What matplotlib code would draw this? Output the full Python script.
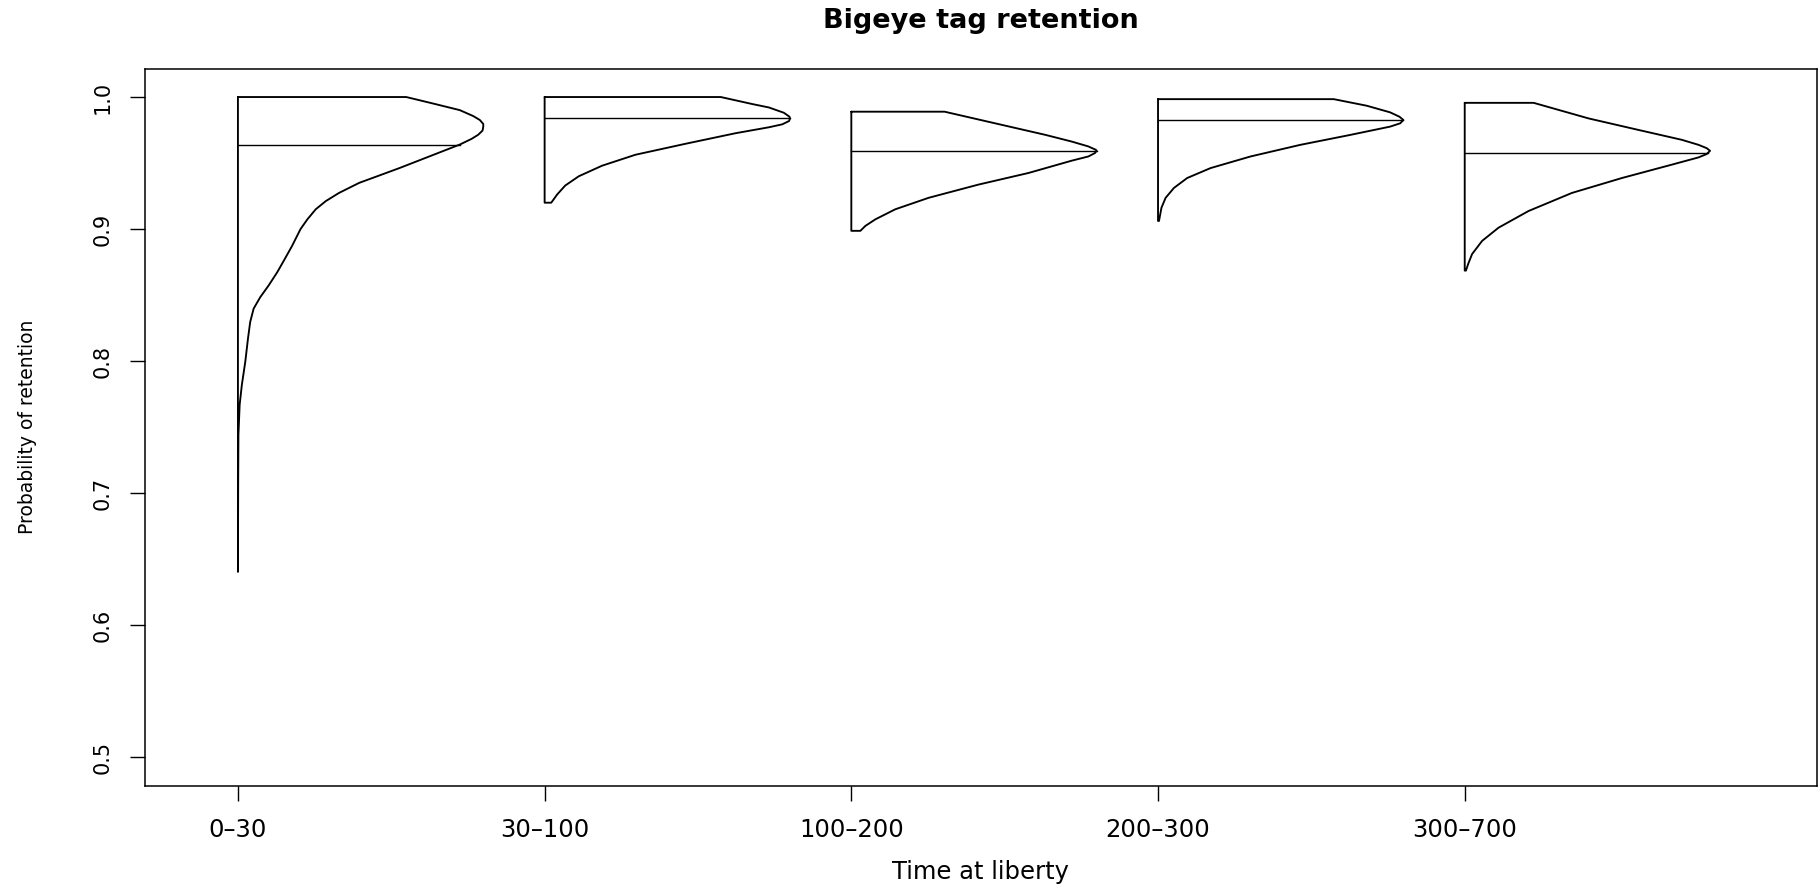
import matplotlib
matplotlib.use("Agg")
import matplotlib.pyplot as plt

# ---------------- data ----------------
groups = ["0–30", "30–100", "100–200", "200–300", "300–700"]
ytick_vals = [0.5, 0.6, 0.7, 0.8, 0.9, 1.0]
ytick_labels = ["0.5", "0.6", "0.7", "0.8", "0.9", "1.0"]

# density profiles: retention probability (top -> bottom) and relative density
dens_y_0_30 = [1.0, 0.9951, 0.9901, 0.9856, 0.9826, 0.9796, 0.9776, 0.9746, 0.9714,
               0.9683, 0.964, 0.9462, 0.935, 0.9274, 0.9212, 0.915, 0.9074, 0.90,
               0.8874, 0.8761, 0.8673, 0.8573, 0.8485, 0.8398, 0.8297, 0.8172,
               0.7996, 0.7821, 0.767, 0.744, 0.707, 0.6405]
dens_w_0_30 = [0.686, 0.795, 0.904, 0.959, 0.986, 1.0, 1.0, 0.997, 0.979,
               0.952, 0.904, 0.658, 0.494, 0.412, 0.358, 0.317, 0.283, 0.255,
               0.221, 0.187, 0.160, 0.125, 0.091, 0.064, 0.050, 0.041,
               0.030, 0.016, 0.007, 0.002, 0.001, 0.0]

dens_y_30_100 = [1.0, 0.9947, 0.9921, 0.9881, 0.9851, 0.9836, 0.9818, 0.9793, 0.9771,
                 0.9726, 0.9646, 0.9563, 0.948, 0.94, 0.933, 0.9262, 0.92]
dens_w_30_100 = [0.718, 0.846, 0.914, 0.975, 0.998, 1.0, 0.996, 0.968, 0.914,
                 0.778, 0.574, 0.370, 0.234, 0.139, 0.084, 0.051, 0.027]

dens_y_100_200 = [0.9889, 0.9801, 0.9714, 0.9663, 0.9626, 0.9601, 0.9594, 0.9576, 0.955,
                  0.9518, 0.9425, 0.9337, 0.9237, 0.915, 0.9074, 0.9024, 0.8987]
dens_w_100_200 = [0.380, 0.586, 0.790, 0.898, 0.966, 0.996, 1.0, 0.993, 0.966,
                  0.898, 0.722, 0.518, 0.315, 0.179, 0.098, 0.057, 0.037]

dens_y_200_300 = [0.9984, 0.9934, 0.9884, 0.9851, 0.9826, 0.9801, 0.9776, 0.9713, 0.9638,
                  0.955, 0.9462, 0.9387, 0.9312, 0.9237, 0.9162, 0.9062]
dens_w_200_300 = [0.716, 0.851, 0.946, 0.984, 1.0, 0.987, 0.946, 0.783, 0.580,
                  0.377, 0.214, 0.119, 0.065, 0.031, 0.014, 0.004]

dens_y_300_700 = [0.9956, 0.9838, 0.9751, 0.9676, 0.9638, 0.9613, 0.9593, 0.9568, 0.9543,
                  0.9488, 0.9387, 0.9274, 0.9137, 0.9011, 0.8911, 0.8811, 0.8736, 0.8686]
dens_w_300_700 = [0.281, 0.505, 0.708, 0.885, 0.953, 0.986, 1.0, 0.986, 0.953,
                  0.844, 0.641, 0.437, 0.260, 0.138, 0.071, 0.030, 0.014, 0.005]

mean_vals = [0.964, 0.984, 0.9595, 0.9826, 0.958]
mean_dens = [0.904, 1.0, 1.0, 1.0, 0.99]

profiles_y = [dens_y_0_30, dens_y_30_100, dens_y_100_200, dens_y_200_300, dens_y_300_700]
profiles_w = [dens_w_0_30, dens_w_30_100, dens_w_100_200, dens_w_200_300, dens_w_300_700]

# ---------------- figure ----------------
W, H = 1820, 886
fig = plt.figure(figsize=(W / 100, H / 100), dpi=100)
ax = fig.add_axes([145 / W, 1 - 786 / H, (1816.5 - 145) / W, (786 - 68.5) / H])

width_scale = 0.8
lw = 1.35
for i, (ys, ws) in enumerate(zip(profiles_y, profiles_w)):
    x0 = i + 1
    xs = [x0] + [x0 + width_scale * w for w in ws] + [x0, x0]
    yy = [ys[0]] + list(ys) + [ys[-1], ys[0]]
    ax.plot(xs, yy, color="black", lw=lw, solid_joinstyle="round",
            solid_capstyle="round")
    ax.plot([x0, x0 + width_scale * mean_dens[i]], [mean_vals[i], mean_vals[i]],
            color="black", lw=1.0)

ax.set_xlim(0.697, 6.147)
ax.set_ylim(0.4784, 1.0216)

ax.set_xticks(range(1, len(groups) + 1))
ax.set_xticklabels(groups, fontsize=17.5, family="DejaVu Sans")
ax.set_yticks(ytick_vals)
ax.set_yticklabels(ytick_labels, fontsize=15, rotation=90, va="center",
                   family="DejaVu Sans")
ax.tick_params(axis="x", direction="out", length=10.8, width=1.0, pad=12)
ax.tick_params(axis="y", direction="out", length=10.8, width=1.0, pad=12.5)

for s in ax.spines.values():
    s.set_linewidth(1.1)

ax.set_xlabel("Time at liberty", fontsize=17.5)
ax.xaxis.set_label_coords(0.5, -92.9 / 717.5)
ax.xaxis.label.set_va("baseline")

ax.set_ylabel("Probability of retention", fontsize=13.5)
ax.yaxis.set_label_coords((28 - 145) / 1671.5, 0.5)
ax.yaxis.label.set_va("center")

fig.text((145 + 1816.5) / 2 / W, 1 - 27.7 / H, "Bigeye tag retention",
         ha="center", va="baseline", fontsize=19.5, fontweight="bold")

fig.savefig("out.png", dpi=100)
